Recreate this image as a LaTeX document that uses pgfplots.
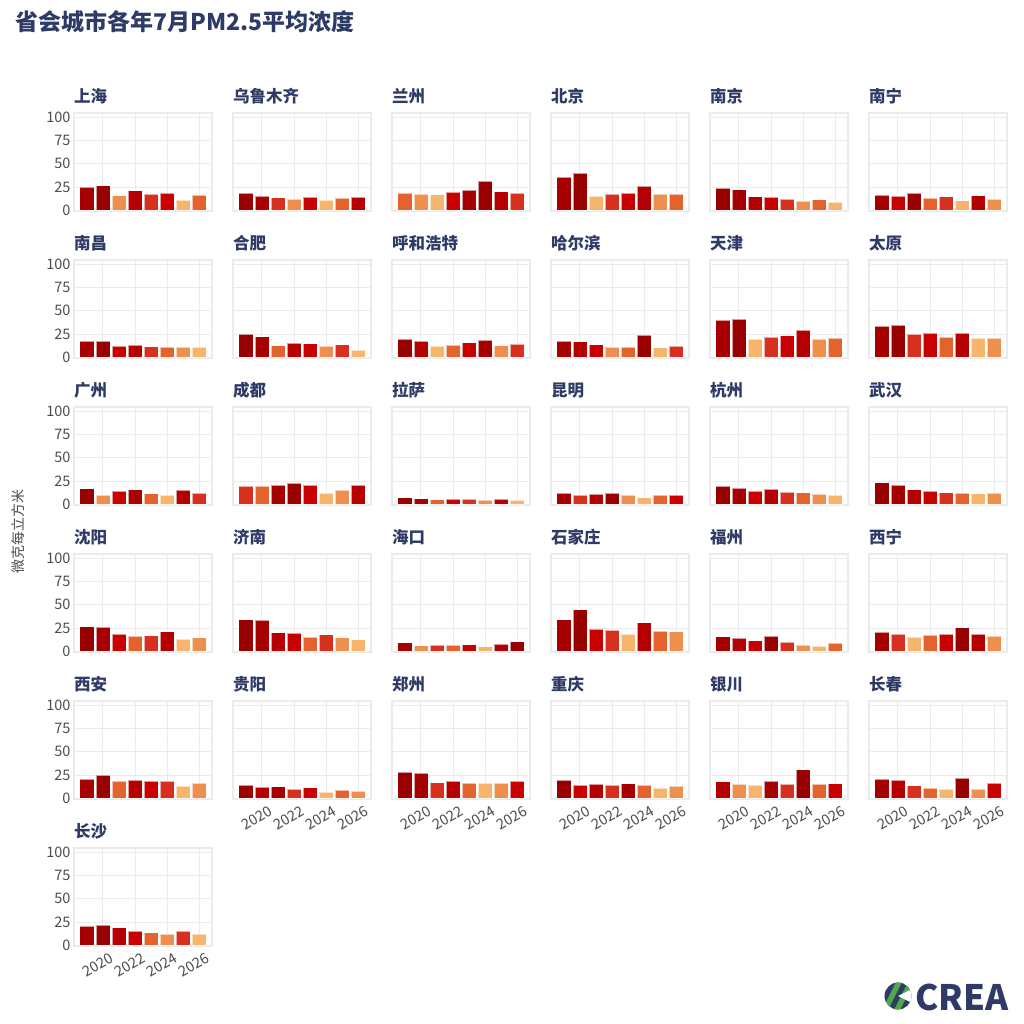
\documentclass[border=0pt]{standalone}
\usepackage{pgfplots}
\pgfplotsset{compat=1.18}
\usepackage{fontspec}
\setmainfont{Noto Sans CJK SC}
\definecolor{rk1}{HTML}{990000}
\definecolor{rk2}{HTML}{A60000}
\definecolor{rk3}{HTML}{B40000}
\definecolor{rk4}{HTML}{C80000}
\definecolor{rk5}{HTML}{D7301F}
\definecolor{rk6}{HTML}{E4632D}
\definecolor{rk7}{HTML}{EF8F4D}
\definecolor{rk8}{HTML}{F6B56B}
\definecolor{navy}{HTML}{2E3B66}
\definecolor{gridc}{HTML}{EBEBEB}
\definecolor{tickc}{HTML}{4D4D4D}
\definecolor{crgreen}{HTML}{4FA84A}
\pgfplotsset{
  discard if not/.style 2 args={
    x filter/.append code={
      \edef\tempa{\thisrow{#1}}%
      \edef\tempb{#2}%
      \ifx\tempa\tempb\else\def\pgfmathresult{inf}\fi
    }
  },
  panel/.style={
    scale only axis, width=138pt, height=98pt,
    anchor=south west,
    xmin=2018.2, xmax=2026.8, ymin=-0.8, ymax=104.6,
    xtick={2020,2022,2024,2026}, ytick={0,25,50,75,100},
    grid=major, major grid style={gridc, line width=0.9pt},
    axis line style={gridc, line width=1.2pt},
    major tick length=0pt,
    tick label style={font=\fontsize{14.5}{15}\selectfont, text=tickc},
    yticklabels={}, xticklabels={},
    title style={at={(0,1)}, anchor=base west, yshift=4pt, inner sep=0pt,
      font=\bfseries\fontsize{16.5}{17}\selectfont, text=navy},
  },
  showy/.style={yticklabels={0,25,50,75,100}},
  showx/.style={xticklabels={2020,2022,2024,2026},
    xticklabel style={rotate=30, anchor=north east, xshift=6pt, yshift=-5pt}},
}
\newcommand{\panel}[5]{%
\begin{axis}[panel, at={({(74+159*#1)*1pt},{(813-147*#2)*1pt})}, title={#3}, #4]
\pgfplotsinvokeforeach{1,...,8}{
  \addplot[ybar, bar width=0.9, bar shift=0pt, fill=rk##1, draw=white, draw opacity=0.6, line width=0.3pt,
    discard if not={r}{##1}] table[x=yr, y=v, row sep=\\]{#5};
}
\end{axis}}
\begin{document}
\begin{tikzpicture}
\useasboundingbox (0,0) rectangle (1024pt,1024pt);
\fill[white] (0,0) rectangle (1024pt,1024pt);
\node[anchor=west, font=\bfseries\fontsize{23}{23}\selectfont, text=navy, inner sep=0pt] at (15pt,1002pt) {省会城市各年7月PM2.5平均浓度};
\node[rotate=90, text=tickc, font=\fontsize{14}{14}\selectfont] at (18pt,492pt) {微克每立方米};
% row 0
\panel{0}{0}{上海}{showy}{yr v r\\2019 24.7 2\\2020 26.5 1\\2021 15.8 7\\2022 21.1 3\\2023 17.2 5\\2024 18.3 4\\2025 10.8 8\\2026 16.1 6\\}
\panel{1}{0}{乌鲁木齐}{}{yr v r\\2019 18.3 1\\2020 15.1 2\\2021 13.6 5\\2022 11.8 7\\2023 14.0 4\\2024 10.8 8\\2025 12.9 6\\2026 14.2 3\\}
\panel{2}{0}{兰州}{}{yr v r\\2019 18.3 6\\2020 17.6 7\\2021 16.8 8\\2022 19.7 4\\2023 21.5 2\\2024 31.5 1\\2025 20.0 3\\2026 18.6 5\\}
\panel{3}{0}{北京}{}{yr v r\\2019 35.8 2\\2020 40.1 1\\2021 15.1 8\\2022 17.6 5\\2023 18.6 4\\2024 25.8 3\\2025 17.1 7\\2026 17.3 6\\}
\panel{4}{0}{南京}{}{yr v r\\2019 24.0 1\\2020 22.2 2\\2021 14.7 3\\2022 14.0 4\\2023 11.6 5\\2024 10.0 7\\2025 11.4 6\\2026 8.6 8\\}
\panel{5}{0}{南宁}{}{yr v r\\2019 16.1 2\\2020 15.1 4\\2021 18.3 1\\2022 12.9 6\\2023 14.7 5\\2024 10.4 8\\2025 15.8 3\\2026 11.8 7\\}
% row 1
\panel{0}{1}{南昌}{showy}{yr v r\\2019 17.1 2\\2020 17.3 1\\2021 11.8 4\\2022 12.9 3\\2023 11.4 5\\2024 10.9 6\\2025 10.8 7\\2026 10.7 8\\}
\panel{1}{1}{合肥}{}{yr v r\\2019 24.7 1\\2020 22.2 2\\2021 12.5 6\\2022 15.1 3\\2023 14.7 4\\2024 12.2 7\\2025 13.6 5\\2026 7.5 8\\}
\panel{2}{1}{呼和浩特}{}{yr v r\\2019 19.4 1\\2020 17.2 3\\2021 11.8 8\\2022 12.9 6\\2023 15.8 4\\2024 18.3 2\\2025 12.5 7\\2026 14.0 5\\}
\panel{3}{1}{哈尔滨}{}{yr v r\\2019 17.2 2\\2020 16.8 3\\2021 13.6 4\\2022 10.8 7\\2023 11.1 6\\2024 23.7 1\\2025 10.4 8\\2026 12.2 5\\}
\panel{4}{1}{天津}{}{yr v r\\2019 40.1 2\\2020 40.9 1\\2021 19.6 8\\2022 21.5 5\\2023 23.3 4\\2024 29.4 3\\2025 19.8 7\\2026 20.4 6\\}
\panel{5}{1}{太原}{}{yr v r\\2019 33.3 2\\2020 34.4 1\\2021 25.1 5\\2022 25.8 4\\2023 21.5 6\\2024 26.2 3\\2025 20.3 8\\2026 20.5 7\\}
% row 2
\panel{0}{2}{广州}{showy}{yr v r\\2019 16.8 1\\2020 10.0 7\\2021 14.6 4\\2022 15.8 2\\2023 11.5 6\\2024 9.7 8\\2025 14.8 3\\2026 11.8 5\\}
\panel{1}{2}{成都}{}{yr v r\\2019 20.0 5\\2020 19.7 6\\2021 20.6 2\\2022 22.6 1\\2023 20.2 4\\2024 11.8 8\\2025 15.1 7\\2026 20.4 3\\}
\panel{2}{2}{拉萨}{}{yr v r\\2019 7.2 1\\2020 6.1 2\\2021 5.0 6\\2022 5.4 4\\2023 5.3 5\\2024 4.4 7\\2025 5.5 3\\2026 4.2 8\\}
\panel{3}{2}{昆明}{}{yr v r\\2019 12.1 2\\2020 9.9 5\\2021 10.8 3\\2022 12.4 1\\2023 9.5 7\\2024 7.2 8\\2025 9.7 6\\2026 10.1 4\\}
\panel{4}{2}{杭州}{}{yr v r\\2019 19.7 1\\2020 17.2 2\\2021 14.0 4\\2022 16.5 3\\2023 13.3 5\\2024 12.5 6\\2025 10.8 7\\2026 9.7 8\\}
\panel{5}{2}{武汉}{}{yr v r\\2019 23.3 1\\2020 20.4 2\\2021 15.8 3\\2022 14.0 4\\2023 12.5 5\\2024 11.9 6\\2025 11.4 8\\2026 11.7 7\\}
% row 3
\panel{0}{3}{沈阳}{showy}{yr v r\\2019 26.5 1\\2020 25.8 2\\2021 18.3 4\\2022 16.5 6\\2023 16.8 5\\2024 21.1 3\\2025 13.3 8\\2026 14.7 7\\}
\panel{1}{3}{济南}{}{yr v r\\2019 34.1 1\\2020 33.3 2\\2021 20.1 3\\2022 19.4 4\\2023 15.1 6\\2024 17.9 5\\2025 14.7 7\\2026 12.5 8\\}
\panel{2}{3}{海口}{}{yr v r\\2019 9.3 2\\2020 6.1 7\\2021 6.8 5\\2022 6.5 6\\2023 7.2 4\\2024 5.0 8\\2025 7.5 3\\2026 10.4 1\\}
\panel{3}{3}{石家庄}{}{yr v r\\2019 34.1 2\\2020 44.8 1\\2021 23.7 4\\2022 22.6 5\\2023 18.3 8\\2024 30.8 3\\2025 21.9 6\\2026 21.1 7\\}
\panel{4}{3}{福州}{}{yr v r\\2019 15.8 2\\2020 14.0 3\\2021 11.5 4\\2022 16.1 1\\2023 10.0 5\\2024 6.8 7\\2025 5.7 8\\2026 9.0 6\\}
\panel{5}{3}{西宁}{}{yr v r\\2019 20.4 2\\2020 18.4 5\\2021 15.1 8\\2022 17.6 6\\2023 18.6 4\\2024 25.4 1\\2025 18.8 3\\2026 16.1 7\\}
% row 4
\panel{0}{4}{西安}{showy}{yr v r\\2019 20.4 2\\2020 25.1 1\\2021 18.1 6\\2022 19.7 3\\2023 18.5 4\\2024 18.3 5\\2025 13.3 8\\2026 16.1 7\\}
\panel{1}{4}{贵阳}{showx}{yr v r\\2019 14.0 1\\2020 12.2 3\\2021 12.5 2\\2022 9.7 5\\2023 11.5 4\\2024 6.5 8\\2025 9.0 6\\2026 7.9 7\\}
\panel{2}{4}{郑州}{showx}{yr v r\\2019 28.0 1\\2020 27.2 2\\2021 16.8 5\\2022 18.4 3\\2023 16.3 6\\2024 16.0 8\\2025 16.1 7\\2026 18.2 4\\}
\panel{3}{4}{重庆}{showx}{yr v r\\2019 19.4 1\\2020 14.5 4\\2021 15.4 3\\2022 14.3 5\\2023 15.8 2\\2024 14.1 6\\2025 10.8 8\\2026 12.9 7\\}
\panel{4}{4}{银川}{showx}{yr v r\\2019 17.9 3\\2020 15.0 7\\2021 14.3 8\\2022 18.3 2\\2023 15.4 5\\2024 30.8 1\\2025 15.2 6\\2026 15.8 4\\}
\panel{5}{4}{长春}{showx}{yr v r\\2019 20.4 2\\2020 19.4 3\\2021 13.6 5\\2022 10.8 6\\2023 9.6 8\\2024 21.5 1\\2025 9.8 7\\2026 16.1 4\\}
% row 5
\panel{0}{5}{长沙}{showy,showx}{yr v r\\2019 20.4 2\\2020 21.5 1\\2021 19.0 3\\2022 15.5 4\\2023 13.6 6\\2024 12.2 7\\2025 15.3 5\\2026 11.8 8\\}
% logo
\begin{scope}
\clip (898pt,28pt) circle (13.5pt);
\fill[navy] (884pt,14pt) rectangle (912pt,42pt);
\foreach \s in {-16,-4,8} {
  \fill[crgreen] ({(898+\s)*1pt},14pt) -- ({(904+\s)*1pt},14pt) -- ({(918+\s)*1pt},42pt) -- ({(912+\s)*1pt},42pt) -- cycle;
}
\fill[white] (898pt,28pt) -- (914pt,36pt) -- (914pt,20pt) -- cycle;
\end{scope}
\node[anchor=west, font=\bfseries\fontsize{35}{35}\selectfont, text=navy, inner sep=0pt] at (915pt,27pt) {CREA};
\end{tikzpicture}
\end{document}
